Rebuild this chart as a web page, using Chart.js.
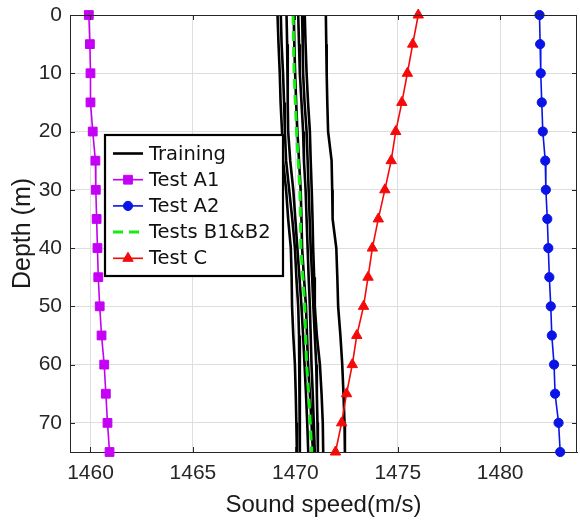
<!DOCTYPE html>
<html>
<head>
<meta charset="utf-8">
<script src="https://cdn.jsdelivr.net/npm/chart.js@4.4.1/dist/chart.umd.min.js"></script>
<style>
  html, body { margin: 0; padding: 0; background: #ffffff; }
  #wrap { width: 580px; height: 520px; position: relative; }
</style>
</head>
<body>
<div id="wrap"><canvas id="c"></canvas></div>
<script>
// ---- data ----
const depths = [0, 5, 10, 15, 20, 25, 30, 35, 40, 45, 50, 55, 60, 65, 70, 75];

const training1 = [1469.13,1469.18,1469.24,1469.28,1469.35,1469.40,1469.55,1469.65,1469.78,1469.82,1469.84,1469.90,1469.98,1470.02,1470.05,1470.08];
const training2 = [1469.29,1469.33,1469.40,1469.45,1469.49,1469.55,1469.70,1469.85,1469.98,1470.05,1470.14,1470.18,1470.22,1470.22,1470.22,1470.22];
const training3 = [1469.57,1469.60,1469.62,1469.64,1469.65,1469.75,1469.90,1470.00,1470.10,1470.20,1470.30,1470.38,1470.45,1470.52,1470.58,1470.63];
const training4 = [1469.92,1469.95,1469.99,1470.04,1470.10,1470.18,1470.26,1470.30,1470.33,1470.42,1470.52,1470.57,1470.62,1470.71,1470.79,1470.86];
const training5 = [1470.14,1470.18,1470.22,1470.30,1470.38,1470.42,1470.50,1470.55,1470.60,1470.65,1470.71,1470.75,1470.79,1470.85,1470.90,1470.95];
const training6 = [1470.33,1470.36,1470.38,1470.45,1470.55,1470.60,1470.65,1470.70,1470.75,1470.82,1470.88,1470.95,1471.02,1471.05,1471.08,1471.10];
const training7 = [1470.46,1470.50,1470.55,1470.62,1470.71,1470.75,1470.80,1470.84,1470.87,1470.92,1470.95,1471.05,1471.20,1471.28,1471.34,1471.36];
const training8 = [1471.49,1471.51,1471.53,1471.56,1471.60,1471.77,1471.80,1471.82,1472.00,1472.05,1472.09,1472.20,1472.29,1472.35,1472.40,1472.42];
const trainingSets = [training1, training2, training3, training4, training5, training6, training7, training8];

const testA1 = [1459.92,1459.97,1460.00,1460.00,1460.11,1460.24,1460.26,1460.30,1460.34,1460.38,1460.45,1460.54,1460.67,1460.75,1460.83,1460.93];
const testA2 = [1481.92,1481.95,1481.98,1482.03,1482.08,1482.20,1482.23,1482.30,1482.35,1482.40,1482.47,1482.52,1482.63,1482.68,1482.85,1482.93];
const testsB = [1469.89,1469.91,1469.94,1470.00,1470.06,1470.14,1470.22,1470.25,1470.27,1470.37,1470.46,1470.50,1470.55,1470.65,1470.73,1470.80];
const testC  = [1476.00,1475.73,1475.47,1475.20,1474.90,1474.68,1474.37,1474.05,1473.76,1473.55,1473.33,1473.00,1472.78,1472.50,1472.26,1471.96];

const xTicks = [1460, 1465, 1470, 1475, 1480];
const yTicks = [0, 10, 20, 30, 40, 50, 60, 70];
const xRange = [1459, 1483.75];
const yRange = [0, 75];

const legendLabels = ['Training', 'Test A1', 'Test A2', 'Tests B1&B2', 'Test C'];

// ---- build ----
const pts = arr => arr.map((v, i) => ({ x: v, y: depths[i] }));

const datasets = [];
trainingSets.forEach((s, i) => {
  datasets.push({
    label: 'Training', data: pts(s), borderColor: '#000000', borderWidth: 2.6,
    pointRadius: 0, showLine: true, order: 20 + i, clip: false, legendKey: i === 0 ? 0 : -1
  });
});
datasets.push({ label: 'Test A1', data: pts(testA1), borderColor: '#c400f5', backgroundColor: '#c400f5',
  borderWidth: 1.6, pointStyle: 'rect', pointRadius: 6.2, pointBorderWidth: 1, showLine: true, order: 4, clip: false, legendKey: 1 });
datasets.push({ label: 'Test A2', data: pts(testA2), borderColor: '#0a14e6', backgroundColor: '#0a14e6',
  borderWidth: 1.6, pointStyle: 'circle', pointRadius: 4.6, pointBorderWidth: 1, showLine: true, order: 3, clip: false, legendKey: 2 });
datasets.push({ label: 'Tests B1&B2', data: pts(testsB), borderColor: '#12f012',
  borderWidth: 3, borderDash: [10, 6], pointRadius: 0, showLine: true, order: 2, clip: false, legendKey: 3 });
datasets.push({ label: 'Test C', data: pts(testC), borderColor: '#f50a0a', backgroundColor: '#f50a0a',
  borderWidth: 1.6, pointStyle: 'triangle', pointRadius: 6, pointBorderWidth: 1, showLine: true, order: 1, clip: false, legendKey: 4 });

const axisColor = '#262626';
const tickFont = { family: '"Liberation Sans", Arial, sans-serif', size: 21 };

const boxPlugin = {
  id: 'boxPlugin',
  afterDraw(chart) {
    const { ctx, chartArea: a, scales } = chart;
    ctx.save();
    ctx.strokeStyle = axisColor;
    ctx.lineWidth = 1;
    ctx.beginPath();
    ctx.moveTo(a.left, a.top + 0.5); ctx.lineTo(a.right, a.top + 0.5);
    ctx.moveTo(a.right - 0.5, a.top); ctx.lineTo(a.right - 0.5, a.bottom);
    const tl = 5;
    xTicks.forEach(v => {
      const px = Math.round(scales.x.getPixelForValue(v)) + 0.5;
      ctx.moveTo(px, a.bottom); ctx.lineTo(px, a.bottom - tl);
      ctx.moveTo(px, a.top); ctx.lineTo(px, a.top + tl);
    });
    yTicks.forEach(v => {
      const py = Math.round(scales.y.getPixelForValue(v)) + 0.5;
      ctx.moveTo(a.left, py); ctx.lineTo(a.left + tl, py);
      ctx.moveTo(a.right, py); ctx.lineTo(a.right - tl, py);
    });
    ctx.stroke();

    // legend
    const lx = 105, ly = 135, lw = 178, lh = 141;
    ctx.fillStyle = '#ffffff';
    ctx.fillRect(lx, ly, lw, lh);
    ctx.lineWidth = 2.2;
    ctx.strokeStyle = '#000000';
    ctx.strokeRect(lx, ly, lw, lh);
    ctx.font = '19.5px "DejaVu Sans", Verdana, sans-serif';
    ctx.textBaseline = 'middle';
    ctx.textAlign = 'left';
    legendLabels.forEach((lab, k) => {
      const ds = chart.data.datasets.find(d => d.legendKey === k);
      const cy = 153.5 + k * 26.2;
      ctx.save();
      ctx.strokeStyle = ds.borderColor;
      ctx.lineWidth = ds.borderWidth;
      ctx.setLineDash(ds.borderDash || []);
      ctx.beginPath();
      ctx.moveTo(113, cy); ctx.lineTo(143, cy);
      ctx.stroke();
      ctx.setLineDash([]);
      if (ds.pointRadius > 0) {
        ctx.fillStyle = ds.backgroundColor;
        ctx.strokeStyle = ds.borderColor;
        ctx.lineWidth = 1;
        Chart.helpers.drawPoint(ctx, { pointStyle: ds.pointStyle, radius: ds.pointRadius, borderWidth: 1, rotation: 0 }, 128, cy);
      }
      ctx.restore();
      ctx.fillStyle = '#111111';
      ctx.fillText(lab, 149, cy + 1);
    });
    ctx.restore();
  }
};

new Chart(document.getElementById('c'), {
  type: 'scatter',
  data: { datasets },
  options: {
    responsive: true,
    maintainAspectRatio: false,
    animation: false,
    layout: { autoPadding: false, padding: { left: 0, right: 3, top: 15, bottom: 0 } },
    elements: { line: { tension: 0 } },
    plugins: { legend: { display: false }, tooltip: { enabled: false } },
    scales: {
      x: {
        type: 'linear', position: 'bottom', min: xRange[0], max: xRange[1],
        afterBuildTicks: s => { s.ticks = xTicks.map(v => ({ value: v })); },
        afterFit: s => { s.height = 68; s.paddingLeft = 0; s.paddingRight = 0; },
        ticks: { font: tickFont, color: axisColor, padding: 9, maxRotation: 0, autoSkip: false,
          callback: v => String(v) },
        grid: { color: '#dedede', lineWidth: 1, drawTicks: false },
        border: { display: true, color: axisColor, width: 1 },
        title: { display: true, text: 'Sound speed(m/s)', color: '#1a1a1a',
          font: { family: '"Liberation Sans", Arial, sans-serif', size: 24 }, padding: { top: 0, bottom: 0 } }
      },
      y: {
        type: 'linear', position: 'left', reverse: true, min: yRange[0], max: yRange[1],
        afterBuildTicks: s => { s.ticks = yTicks.map(v => ({ value: v })); },
        afterFit: s => { s.width = 70; s.paddingTop = 0; s.paddingBottom = 0; },
        ticks: { font: tickFont, color: axisColor, padding: 8, autoSkip: false,
          callback: v => String(v) },
        grid: { color: '#dedede', lineWidth: 1, drawTicks: false },
        border: { display: true, color: axisColor, width: 1 },
        title: { display: true, text: 'Depth (m)', color: '#1a1a1a',
          font: { family: '"Liberation Sans", Arial, sans-serif', size: 25 }, padding: { top: 8, bottom: 0 } }
      }
    }
  },
  plugins: [boxPlugin]
});
</script>
</body>
</html>
